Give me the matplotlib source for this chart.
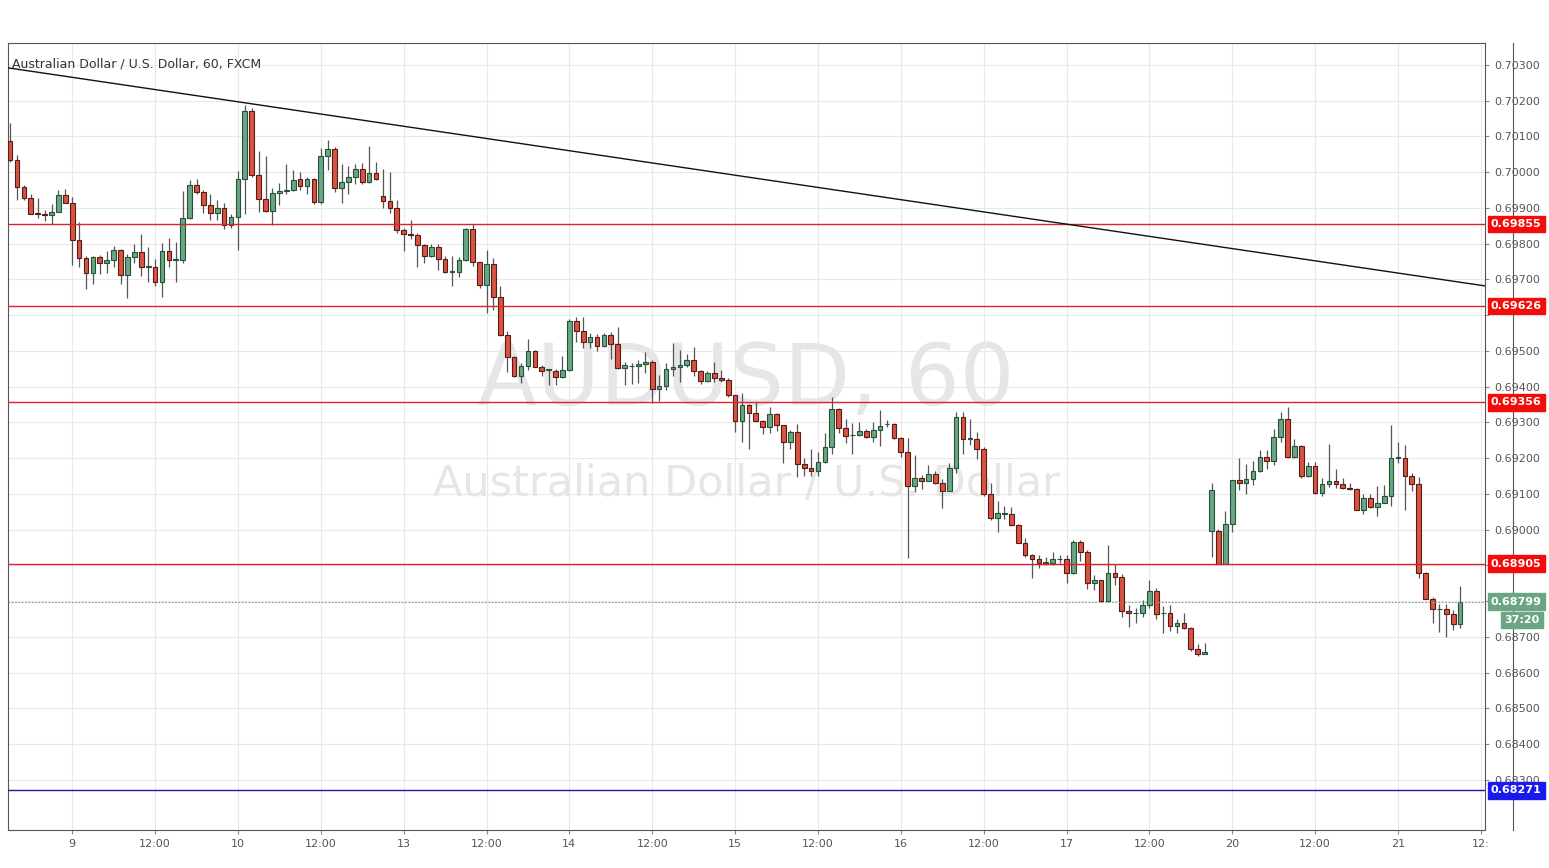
import matplotlib
matplotlib.use("Agg")
import matplotlib.pyplot as plt
import matplotlib.transforms as mtransforms
import numpy as np

opens = [0.70086,0.70035,0.69960,0.69929,0.69887,0.69884,0.69879,0.69888,0.69937,0.69915,
0.69811,0.69761,0.69719,0.69762,0.69747,0.69755,0.69783,0.69713,0.69764,0.69778,
0.69736,0.69736,0.69693,0.69779,0.69755,0.69755,0.69873,0.69963,0.69946,0.69908,
0.69887,0.69901,0.69853,0.69874,0.69982,0.70170,0.69993,0.69926,0.69891,0.69943,
0.69947,0.69951,0.69980,0.69961,0.69980,0.69916,0.70045,0.70065,0.69955,0.69972,
0.69986,0.70008,0.69973,0.69997,0.69933,0.69920,0.69899,0.69838,0.69826,0.69824,
0.69796,0.69766,0.69792,0.69756,0.69722,0.69722,0.69754,0.69841,0.69748,0.69684,
0.69742,0.69650,0.69546,0.69484,0.69431,0.69459,0.69500,0.69456,0.69447,0.69445,
0.69428,0.69447,0.69585,0.69556,0.69524,0.69538,0.69514,0.69545,0.69519,0.69452,
0.69458,0.69458,0.69464,0.69468,0.69393,0.69402,0.69449,0.69454,0.69461,0.69475,
0.69444,0.69416,0.69438,0.69425,0.69418,0.69376,0.69304,0.69348,0.69326,0.69304,
0.69286,0.69323,0.69292,0.69244,0.69273,0.69183,0.69172,0.69163,0.69190,0.69230,
0.69337,0.69285,0.69265,0.69265,0.69277,0.69258,0.69279,0.69295,0.69295,0.69256,
0.69218,0.69123,0.69144,0.69135,0.69156,0.69130,0.69107,0.69172,0.69315,0.69254,
0.69254,0.69225,0.69099,0.69032,0.69045,0.69043,0.69013,0.68964,0.68929,0.68917,
0.68908,0.68908,0.68917,0.68917,0.68878,0.68967,0.68939,0.68850,0.68859,0.68801,
0.68878,0.68867,0.68774,0.68766,0.68766,0.68790,0.68829,0.68766,0.68766,0.68732,
0.68738,0.68724,0.68666,0.68652,0.68997,0.68997,0.68904,0.69015,0.69139,0.69130,
0.69141,0.69164,0.69203,0.69192,0.69259,0.69309,0.69203,0.69235,0.69150,0.69178,
0.69104,0.69127,0.69136,0.69128,0.69116,0.69114,0.69055,0.69088,0.69063,0.69076,
0.69093,0.69202,0.69202,0.69151,0.69127,0.68880,0.68806,0.68777,0.68777,0.68763,
0.68735]
highs = [0.70138,0.70048,0.69965,0.69940,0.69928,0.69893,0.69912,0.69951,0.69953,0.69930,
0.69860,0.69766,0.69766,0.69768,0.69781,0.69795,0.69786,0.69770,0.69798,0.69828,
0.69791,0.69758,0.69803,0.69817,0.69805,0.69947,0.69978,0.69981,0.69950,0.69940,
0.69921,0.69914,0.69884,0.70003,0.70188,0.70179,0.70059,0.70045,0.69957,0.69970,
0.70022,0.70007,0.70001,0.69988,0.69983,0.70067,0.70090,0.70070,0.70023,0.70017,
0.70023,0.70025,0.70073,0.70028,0.70008,0.70001,0.69922,0.69845,0.69866,0.69830,
0.69800,0.69800,0.69800,0.69765,0.69766,0.69764,0.69843,0.69855,0.69750,0.69782,
0.69761,0.69683,0.69555,0.69486,0.69465,0.69533,0.69503,0.69462,0.69449,0.69449,
0.69486,0.69589,0.69594,0.69594,0.69549,0.69547,0.69549,0.69554,0.69568,0.69470,
0.69466,0.69474,0.69498,0.69475,0.69433,0.69466,0.69523,0.69503,0.69491,0.69512,
0.69448,0.69444,0.69468,0.69447,0.69424,0.69377,0.69382,0.69352,0.69357,0.69307,
0.69344,0.69326,0.69293,0.69278,0.69295,0.69200,0.69225,0.69216,0.69270,0.69372,
0.69340,0.69309,0.69298,0.69300,0.69283,0.69300,0.69335,0.69307,0.69298,0.69259,
0.69256,0.69209,0.69153,0.69181,0.69163,0.69141,0.69188,0.69328,0.69328,0.69309,
0.69272,0.69231,0.69130,0.69079,0.69066,0.69063,0.69016,0.68976,0.68933,0.68930,
0.68925,0.68939,0.68929,0.68929,0.68972,0.68972,0.68942,0.68873,0.68859,0.68957,
0.68904,0.68876,0.68790,0.68780,0.68802,0.68859,0.68836,0.68787,0.68790,0.68749,
0.68766,0.68729,0.68680,0.68684,0.69132,0.69001,0.69053,0.69139,0.69200,0.69184,
0.69191,0.69223,0.69223,0.69281,0.69328,0.69344,0.69254,0.69237,0.69190,0.69190,
0.69145,0.69240,0.69169,0.69144,0.69130,0.69116,0.69100,0.69099,0.69122,0.69125,
0.69293,0.69244,0.69237,0.69160,0.69148,0.68882,0.68811,0.68793,0.68793,0.68775,
0.68843]
lows = [0.70030,0.69923,0.69921,0.69882,0.69872,0.69864,0.69854,0.69888,0.69915,0.69741,
0.69736,0.69672,0.69688,0.69716,0.69718,0.69735,0.69688,0.69649,0.69746,0.69709,
0.69693,0.69683,0.69650,0.69735,0.69693,0.69746,0.69870,0.69940,0.69886,0.69867,
0.69865,0.69842,0.69843,0.69783,0.69882,0.69987,0.69889,0.69889,0.69851,0.69907,
0.69940,0.69948,0.69950,0.69939,0.69912,0.69911,0.70006,0.69945,0.69915,0.69940,
0.69968,0.69968,0.69970,0.69978,0.69899,0.69887,0.69830,0.69781,0.69812,0.69736,
0.69747,0.69762,0.69726,0.69718,0.69683,0.69706,0.69751,0.69738,0.69675,0.69607,
0.69615,0.69542,0.69442,0.69426,0.69410,0.69446,0.69454,0.69431,0.69405,0.69405,
0.69425,0.69445,0.69526,0.69509,0.69507,0.69501,0.69510,0.69477,0.69450,0.69405,
0.69409,0.69411,0.69438,0.69354,0.69361,0.69390,0.69430,0.69414,0.69455,0.69430,
0.69409,0.69414,0.69414,0.69414,0.69372,0.69272,0.69246,0.69225,0.69300,0.69269,
0.69271,0.69276,0.69186,0.69226,0.69148,0.69150,0.69150,0.69150,0.69187,0.69213,
0.69271,0.69242,0.69212,0.69262,0.69256,0.69244,0.69233,0.69287,0.69255,0.69203,
0.68922,0.69106,0.69113,0.69135,0.69128,0.69062,0.69107,0.69158,0.69212,0.69237,
0.69197,0.69093,0.69027,0.68995,0.69030,0.69011,0.68962,0.68925,0.68864,0.68892,
0.68902,0.68902,0.68906,0.68852,0.68876,0.68913,0.68833,0.68831,0.68798,0.68797,
0.68846,0.68755,0.68729,0.68740,0.68757,0.68780,0.68750,0.68712,0.68718,0.68710,
0.68721,0.68662,0.68648,0.68652,0.68923,0.68904,0.68904,0.68995,0.69110,0.69100,
0.69125,0.69162,0.69170,0.69180,0.69246,0.69200,0.69200,0.69144,0.69148,0.69099,
0.69093,0.69120,0.69118,0.69113,0.69110,0.69055,0.69044,0.69060,0.69037,0.69074,
0.69067,0.69186,0.69055,0.69107,0.68864,0.68806,0.68738,0.68715,0.68701,0.68719,
0.68725]
closes = [0.70035,0.69959,0.69929,0.69884,0.69884,0.69879,0.69888,0.69937,0.69915,0.69811,
0.69761,0.69719,0.69763,0.69747,0.69755,0.69783,0.69713,0.69764,0.69778,0.69736,
0.69736,0.69693,0.69779,0.69755,0.69755,0.69873,0.69963,0.69946,0.69908,0.69887,
0.69901,0.69853,0.69874,0.69982,0.70170,0.69993,0.69926,0.69891,0.69943,0.69947,
0.69951,0.69979,0.69961,0.69980,0.69916,0.70045,0.70065,0.69955,0.69972,0.69986,
0.70008,0.69973,0.69997,0.69980,0.69920,0.69899,0.69838,0.69827,0.69824,0.69796,
0.69766,0.69792,0.69756,0.69722,0.69722,0.69754,0.69841,0.69748,0.69684,0.69742,
0.69650,0.69546,0.69484,0.69431,0.69459,0.69500,0.69456,0.69445,0.69447,0.69428,
0.69447,0.69585,0.69556,0.69524,0.69538,0.69514,0.69545,0.69519,0.69452,0.69461,
0.69458,0.69464,0.69468,0.69393,0.69402,0.69449,0.69454,0.69461,0.69475,0.69444,
0.69416,0.69438,0.69425,0.69418,0.69376,0.69304,0.69348,0.69326,0.69304,0.69286,
0.69323,0.69292,0.69244,0.69273,0.69183,0.69172,0.69163,0.69190,0.69230,0.69337,
0.69285,0.69263,0.69265,0.69277,0.69258,0.69279,0.69291,0.69295,0.69256,0.69218,
0.69123,0.69144,0.69135,0.69156,0.69130,0.69107,0.69172,0.69315,0.69253,0.69254,
0.69225,0.69099,0.69032,0.69046,0.69045,0.69013,0.68964,0.68929,0.68917,0.68908,
0.68908,0.68917,0.68917,0.68878,0.68967,0.68939,0.68850,0.68859,0.68801,0.68878,
0.68867,0.68774,0.68766,0.68766,0.68790,0.68829,0.68763,0.68766,0.68732,0.68738,
0.68724,0.68666,0.68652,0.68659,0.69111,0.68904,0.69015,0.69139,0.69130,0.69141,
0.69164,0.69203,0.69192,0.69259,0.69309,0.69203,0.69235,0.69150,0.69178,0.69104,
0.69127,0.69136,0.69128,0.69116,0.69114,0.69055,0.69088,0.69063,0.69076,0.69093,
0.69200,0.69202,0.69151,0.69127,0.68880,0.68806,0.68777,0.68777,0.68763,0.68735,
0.68799]

tick_labels = ["9","12:00","10","12:00","13","12:00","14","12:00","15","12:00",
               "16","12:00","17","12:00","20","12:00","21","12:"]
red_levels = [0.69855, 0.69626, 0.69356, 0.68905]
blue_level = 0.68271
last_price = 0.68799
countdown = "37:20"
trend_start = (-0.3, 0.70292)
trend_end = (213.6, 0.69682)
y_ticks = [0.683,0.684,0.685,0.686,0.687,0.688,0.689,0.690,0.691,0.692,0.693,0.694,
           0.695,0.696,0.697,0.698,0.699,0.700,0.701,0.702,0.703]

UP, DOWN = "#6ba583", "#d75442"
UP_E, DOWN_E = "#225437", "#5b1a13"

fig = plt.figure(figsize=(15.49, 8.68), dpi=100)
ax = fig.add_axes([8/1549, 38/868, 1477/1549, 787/868])
ax.set_xlim(-0.3, 213.6)
ax.set_ylim(0.68160, 0.703615)

n = len(closes)
idx = np.arange(n)
o = np.array(opens); c = np.array(closes); h = np.array(highs); l = np.array(lows)
up = c >= o
ax.vlines(idx, l, h, color="#555555", linewidth=0.9, zorder=3)
bottom = np.minimum(o, c)
height = np.maximum(np.abs(c - o), 0.000012)
ax.bar(idx, height, bottom=bottom, width=0.68,
       color=np.where(up, UP, DOWN), edgecolor=np.where(up, UP_E, DOWN_E),
       linewidth=0.8, zorder=4)

# grid
xt = [9 + 12 * k for k in range(len(tick_labels))]
for x in xt:
    ax.axvline(x, color="#e9e9e9", lw=0.8, zorder=0)
for y in y_ticks:
    ax.axhline(y, color="#e9e9e9", lw=0.8, zorder=0)

# watermark
ax.text(0.5, 0.57, "AUDUSD, 60", transform=ax.transAxes, ha="center", va="center",
        fontsize=62, color="#e6e6e6", zorder=1)
ax.text(0.5, 0.44, "Australian Dollar / U.S. Dollar", transform=ax.transAxes,
        ha="center", va="center", fontsize=31, color="#e6e6e6", zorder=1)
ax.text(0.003, 0.982, "Australian Dollar / U.S. Dollar, 60, FXCM", transform=ax.transAxes,
        ha="left", va="top", fontsize=9, color="#333333")

# lines
for lv in red_levels:
    ax.axhline(lv, color="#e0212b", lw=1.0, zorder=5)
ax.axhline(blue_level, color="#1a1aaa", lw=1.0, zorder=5)
ax.axhline(last_price, color="#6ba583", lw=0.8, ls=(0, (1.5, 1.5)), zorder=5)
ax.plot([trend_start[0], trend_end[0]], [trend_start[1], trend_end[1]],
        color="#111111", lw=1.0, zorder=5)

# axes
tags = red_levels + [blue_level, last_price]
ax.yaxis.tick_right()
ax.set_yticks(y_ticks)
ax.set_yticklabels(["" if min(abs(v - t) for t in tags) < 0.00028 else f"{v:.5f}"
                    for v in y_ticks], fontsize=8, color="#555555")
ax.set_xticks(xt)
ax.set_xticklabels(tick_labels, fontsize=8, color="#555555")
ax.tick_params(length=3, color="#888888")
for s in ax.spines.values():
    s.set_color("#555555"); s.set_linewidth(0.8)

tr = mtransforms.blended_transform_factory(ax.transAxes, ax.transData)
def tag(y, txt, fc, x=1.004):
    ax.text(x, y, txt, transform=tr, ha="left", va="center", fontsize=8,
            fontweight="bold", color="white", zorder=10, clip_on=False,
            bbox=dict(boxstyle="square,pad=0.3", fc=fc, ec=fc))
for lv in red_levels:
    tag(lv, f"{lv:.5f}", "#f20c0c")
tag(blue_level, f"{blue_level:.5f}", "#1a1aee")
tag(last_price, f"{last_price:.5f}", "#6ba583")
tag(last_price - 0.00052, countdown, "#6ba583", x=1.013)

fig.add_artist(plt.Line2D([1513/1549, 1513/1549], [38/868, 1 - 43/868],
                          color="#555555", lw=0.8, zorder=-1))
fig.savefig("out.png", dpi=100, facecolor="white")
